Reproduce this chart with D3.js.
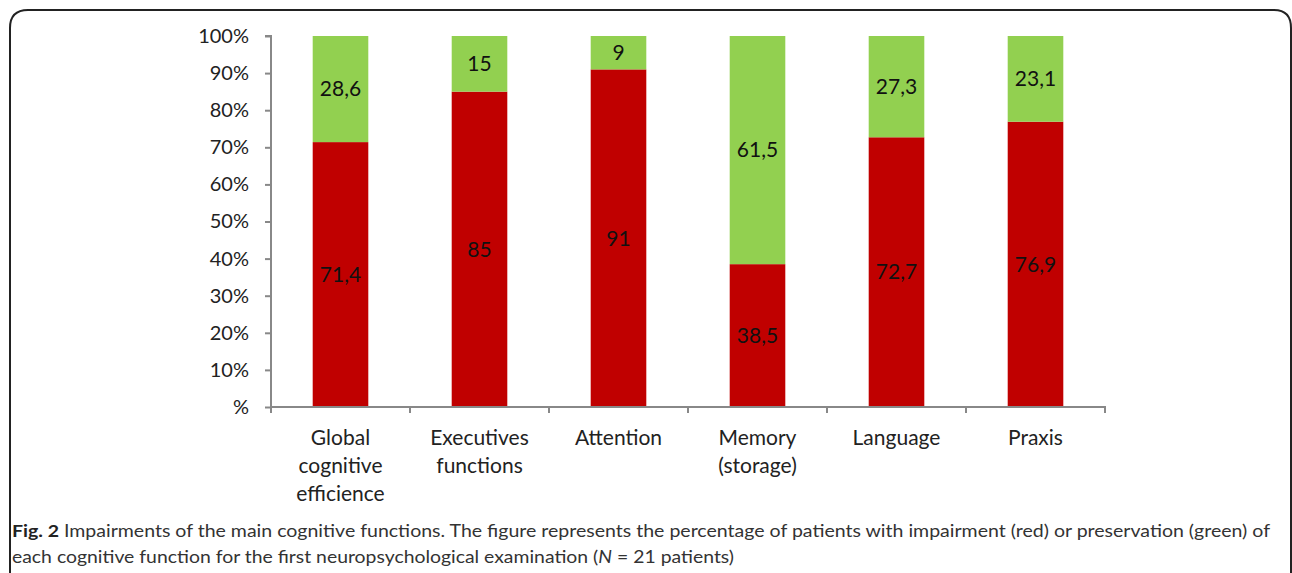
<!DOCTYPE html>
<html>
<head>
<meta charset="utf-8">
<script src="https://cdn.jsdelivr.net/npm/d3@7"></script>
<style>
  body { margin: 0; background: #fff; }
  svg text { font-family: Lato, "Noto Sans", sans-serif; }
</style>
</head>
<body>
<div id="chart"></div>
<script>
// data
var categories = [
  ["Global", "cognitive", "efficience"],
  ["Executives", "functions"],
  ["Attention"],
  ["Memory", "(storage)"],
  ["Language"],
  ["Praxis"]
];
var impaired = [71.4, 85, 91, 38.5, 72.7, 76.9];
var preserved = [28.6, 15, 9, 61.5, 27.3, 23.1];
var yTicks = [0, 10, 20, 30, 40, 50, 60, 70, 80, 90, 100];

var svgWidth = 1292;
var svgHeight = 573;

var plot = { left: 271, right: 1105, top: 36, bottom: 407 };

var svg = d3.select("#chart")
  .append("svg")
  .attr("width", svgWidth)
  .attr("height", svgHeight);

// rounded frame round the figure (bottom open)
svg.append("path")
  .attr("d", "M10,575 L10,28 Q10,10 28,10 L1274,10 Q1291,10 1291,28 L1291,575")
  .attr("fill", "none")
  .attr("stroke", "#222")
  .attr("stroke-width", 2);

var x = d3.scaleBand()
  .domain(d3.range(categories.length))
  .range([plot.left, plot.right])
  .paddingInner(0)
  .paddingOuter(0);

var y = d3.scaleLinear()
  .domain([0, 100])
  .range([plot.bottom, plot.top]);

var barW = x.bandwidth() * 0.4;

// stacked segments
var stacks = categories.map(function(c, i) {
  return [
    { i: i, y0: 0, y1: impaired[i], v: impaired[i], color: "#c00000" },
    { i: i, y0: impaired[i], y1: impaired[i] + preserved[i], v: preserved[i], color: "#92d050" }
  ];
}).flat();

var chartGroup = svg.append("g");

chartGroup.selectAll("rect.seg")
  .data(stacks)
  .enter()
  .append("rect")
  .attr("class", "seg")
  .attr("x", d => x(d.i) + (x.bandwidth() - barW) / 2)
  .attr("y", d => y(d.y1))
  .attr("width", barW)
  .attr("height", d => y(d.y0) - y(d.y1))
  .attr("fill", d => d.color);

chartGroup.selectAll("text.val")
  .data(stacks)
  .enter()
  .append("text")
  .attr("class", "val")
  .attr("x", d => x(d.i) + x.bandwidth() / 2)
  .attr("y", d => y((d.y0 + d.y1) / 2))
  .attr("dy", "0.35em")
  .attr("text-anchor", "middle")
  .attr("font-size", "21px")
  .attr("fill", "#111")
  .text(d => String(d.v).replace(".", ","));

// y axis
var leftAxis = d3.axisLeft(y)
  .tickValues(yTicks)
  .tickSize(6)
  .tickPadding(16)
  .tickFormat(d => (d === 0 ? "" : d) + "%");

var yAxis = svg.append("g")
  .attr("transform", `translate(${plot.left}, 0)`)
  .call(leftAxis);

yAxis.select(".domain").attr("stroke", "#888").attr("stroke-width", 2)
  .attr("d", `M-6,${plot.top}H0V${plot.bottom}`);
yAxis.selectAll(".tick line").attr("stroke", "#888").attr("stroke-width", 2);
yAxis.selectAll(".tick text")
  .attr("font-size", "20px")
  .attr("fill", "#222")
  .attr("font-family", "Lato, sans-serif");

// x axis
var bottomAxis = d3.axisBottom(x).tickSize(0).tickFormat("");
var xAxis = svg.append("g")
  .attr("transform", `translate(0, ${plot.bottom})`)
  .call(bottomAxis);
xAxis.select(".domain").attr("stroke", "#888").attr("stroke-width", 2)
  .attr("d", `M${plot.left},0H${plot.right}V6`);

// category boundary ticks
xAxis.selectAll("line.bound")
  .data(d3.range(categories.length))
  .enter()
  .append("line")
  .attr("class", "bound")
  .attr("x1", d => x(d))
  .attr("x2", d => x(d))
  .attr("y1", 0)
  .attr("y2", 6)
  .attr("stroke", "#888")
  .attr("stroke-width", 2);

// category labels
var labels = svg.append("g").selectAll("text.cat")
  .data(categories)
  .enter()
  .append("text")
  .attr("class", "cat")
  .attr("x", (d, i) => x(i) + x.bandwidth() / 2)
  .attr("y", 445)
  .attr("text-anchor", "middle")
  .attr("font-size", "21px")
  .attr("fill", "#222");

labels.selectAll("tspan")
  .data(d => d)
  .enter()
  .append("tspan")
  .attr("x", function() { return d3.select(this.parentNode).attr("x"); })
  .attr("dy", (d, j) => j === 0 ? 0 : 28)
  .text(d => d);

// caption
var cap = svg.append("g")
  .attr("font-family", "'Open Sans', 'Noto Sans', sans-serif")
  .attr("font-size", "17px")
  .attr("fill", "#333");

var line1 = cap.append("text")
  .attr("x", 12)
  .attr("y", 537)
  .attr("textLength", 1258)
  .attr("lengthAdjust", "spacingAndGlyphs");
line1.append("tspan").attr("font-weight", "bold").attr("fill", "#222").text("Fig. 2");
line1.append("tspan").text(" Impairments of the main cognitive functions. The figure represents the percentage of patients with impairment (red) or preservation (green) of");

var line2 = cap.append("text")
  .attr("x", 12)
  .attr("y", 563)
  .attr("textLength", 722)
  .attr("lengthAdjust", "spacingAndGlyphs");
line2.append("tspan").text("each cognitive function for the first neuropsychological examination (");
line2.append("tspan").attr("font-style", "italic").text("N");
line2.append("tspan").text(" = 21 patients)");
</script>
</body>
</html>
